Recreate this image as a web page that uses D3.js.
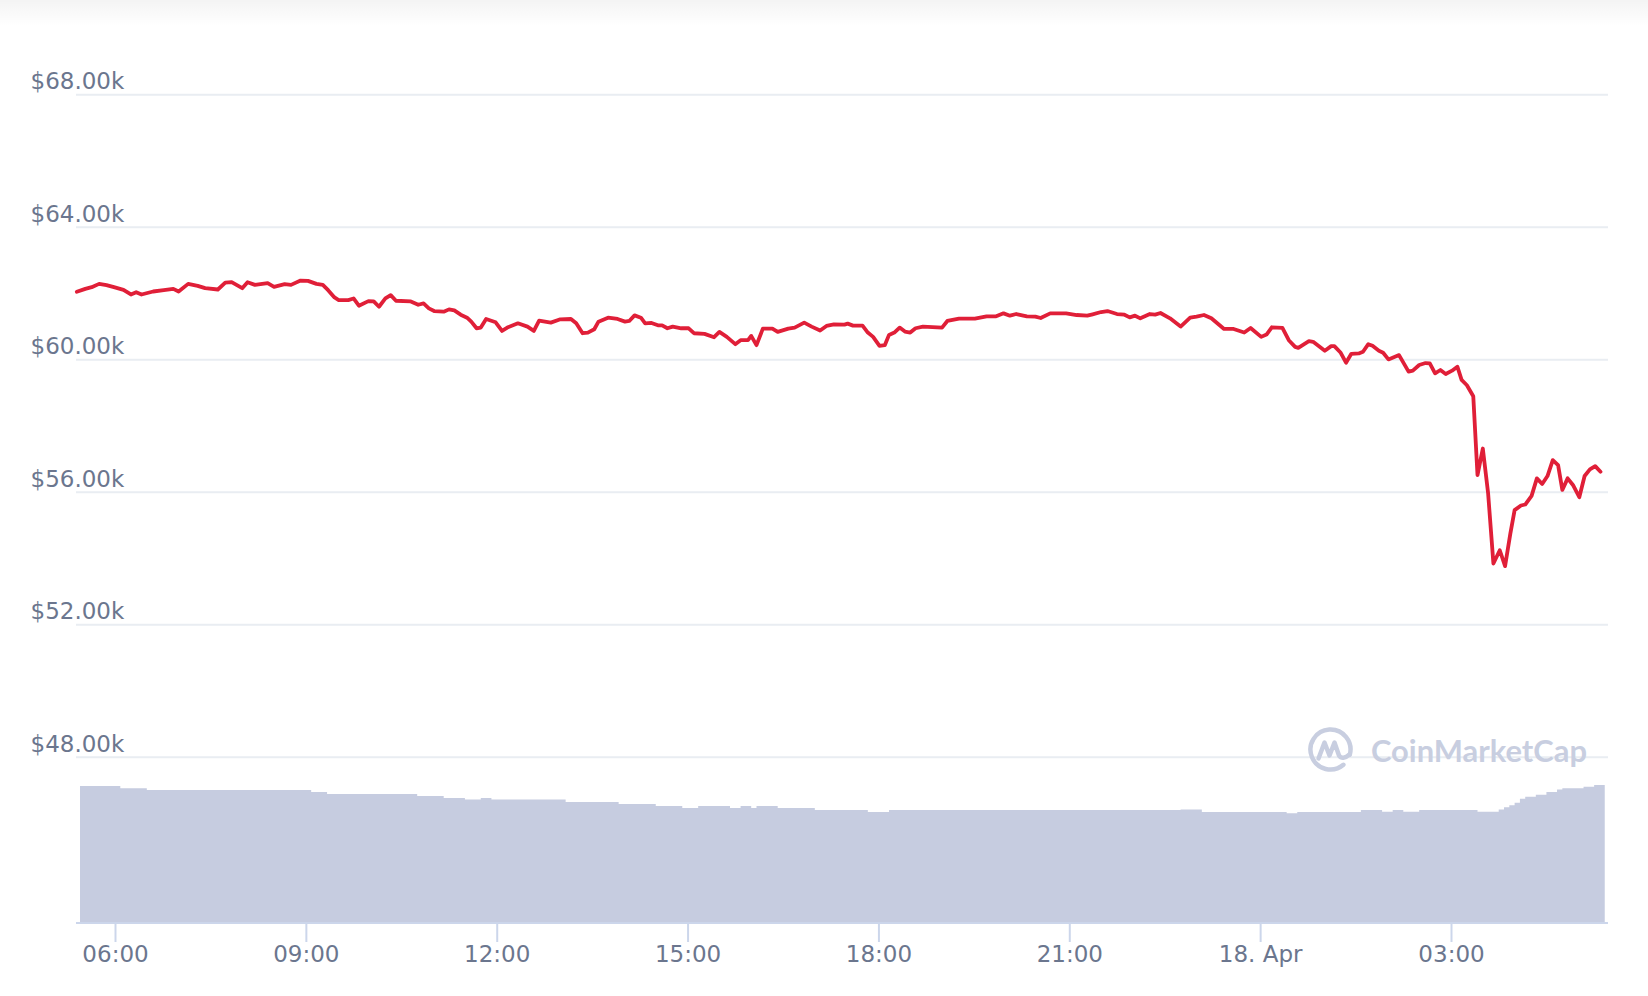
<!DOCTYPE html>
<html><head><meta charset="utf-8">
<script src="https://cdn.jsdelivr.net/npm/d3@7"></script>
<style>
html,body{margin:0;padding:0;background:#fff;}
svg{display:block;}
</style></head><body>
<svg id="c" width="1648" height="996"></svg>
<script>
// ---- data (BTC price, 17–18 Apr 2021) ----
const priceTimes = ["05:24","05:32","05:38","05:45","05:52","05:59","06:08","06:15","06:20","06:25","06:36","06:46","06:55","07:00","07:09","07:18","07:25","07:37","07:44","07:50","08:00","08:05","08:12","08:24","08:30","08:40","08:46","08:55","09:02","09:10","09:16","09:21","09:27","09:31","09:40","09:45","09:50","09:59","10:04","10:09","10:15","10:20","10:25","10:39","10:46","10:51","10:56","11:01","11:10","11:15","11:20","11:26","11:32","11:36","11:41","11:45","11:50","11:59","12:05","12:10","12:20","12:29","12:35","12:40","12:51","13:00","13:10","13:15","13:21","13:26","13:32","13:36","13:45","13:54","14:01","14:05","14:10","14:16","14:20","14:26","14:32","14:36","14:41","14:46","14:54","15:01","15:06","15:16","15:25","15:30","15:37","15:45","15:50","15:57","16:00","16:05","16:11","16:20","16:25","16:35","16:41","16:50","16:57","17:05","17:11","17:18","17:28","17:31","17:36","17:45","17:50","17:55","18:01","18:06","18:10","18:15","18:20","18:25","18:30","18:35","18:42","19:00","19:05","19:16","19:31","19:42","19:51","19:58","20:04","20:10","20:20","20:28","20:33","20:42","20:57","21:07","21:17","21:22","21:30","21:36","21:45","21:52","21:57","22:02","22:07","22:16","22:21","22:26","22:35","22:45","22:54","23:00","23:07","23:14","23:26","23:35","23:45","23:51","00:01","00:06","00:11","00:21","00:27","00:33","00:36","00:46","00:50","01:01","01:07","01:10","01:16","01:21","01:26","01:33","01:37","01:42","01:46","01:52","01:56","02:01","02:11","02:20","02:24","02:30","02:36","02:40","02:45","02:50","02:55","03:01","03:06","03:10","03:15","03:21","03:25","03:30","03:35","03:40","03:46","03:51","03:56","04:00","04:06","04:10","04:16","04:21","04:26","04:31","04:36","04:41","04:45","04:50","04:55","05:01","05:06","05:11","05:16","05:21"];
const priceValues = [62050,62140,62190,62290,62250,62190,62110,61970,62040,61970,62060,62100,62140,62060,62290,62230,62160,62120,62330,62340,62160,62340,62260,62310,62200,62280,62260,62390,62380,62290,62260,62100,61880,61800,61800,61850,61630,61770,61760,61600,61850,61950,61780,61760,61660,61700,61550,61470,61450,61520,61490,61360,61270,61150,60950,60970,61230,61130,60870,60970,61100,61000,60870,61180,61120,61220,61230,61100,60800,60820,60920,61150,61270,61230,61150,61170,61340,61270,61100,61110,61040,61040,60950,61000,60950,60950,60800,60780,60680,60840,60690,60470,60590,60590,60720,60440,60940,60940,60840,60940,60970,61120,61000,60880,61020,61070,61060,61090,61030,61030,60820,60690,60420,60440,60750,60820,60970,60850,60820,60950,61000,60970,61170,61240,61240,61310,61310,61400,61330,61380,61310,61300,61260,61400,61400,61350,61330,61370,61440,61470,61380,61360,61280,61330,61250,61380,61360,61410,61250,61000,61270,61300,61350,61250,60930,60930,60820,60960,60690,60760,60980,60960,60590,60390,60360,60560,60540,60270,60410,60410,60210,59910,60180,60190,60240,60470,60420,60270,60210,60010,60140,59640,59670,59840,59900,59890,59590,59690,59570,59670,59790,59390,59230,58900,56520,57320,55970,53850,54250,53770,54760,55460,55600,55630,55890,56420,56250,56490,56970,56820,56070,56420,56220,55850,56490,56690,56790,56620];

// 24h volume (billions USD), step values
const volumeTimes = ["05:27","06:05","06:30","09:05","09:20","10:45","11:10","11:30","11:45","11:55","13:05","13:55","14:30","14:55","15:10","15:40","15:50","16:00","16:05","16:25","17:00","17:50","18:10","22:45","23:05","00:25","00:35","01:35","01:55","02:05","02:15","02:30","03:25","03:45","03:50","03:55","04:00","04:05","04:10","04:20","04:30","04:40","04:45","05:05","05:15","05:25"];
const volumeValues = [64.0,62.9,62.1,61.2,60.2,59.3,58.4,57.6,58.4,57.6,56.5,55.5,54.6,53.7,54.6,53.7,54.6,53.7,54.6,53.7,52.7,51.8,52.7,53.0,51.8,51.2,51.8,52.7,51.9,52.7,51.9,52.7,51.9,53.0,54.0,54.9,56.1,58.0,59.0,59.9,61.2,62.4,62.9,63.7,64.5,64.5];

const priceTicks = [48000,52000,56000,60000,64000,68000];
const timeTicks = ["06:00","09:00","12:00","15:00","18:00","21:00","00:00","03:00"];
const timeTickLabels = ["06:00","09:00","12:00","15:00","18:00","21:00","18. Apr","03:00"];

// ---- helpers ----
function toDates(list){
  let day = 17, prev = -1;
  return list.map(s=>{
    const [h,m] = s.split(":").map(Number);
    const mins = h*60+m;
    if (prev >= 0 && mins < prev) day++;
    prev = mins;
    return new Date(2021,3,day,h,m);
  });
}
const pDates = toDates(priceTimes);
const vDates = toDates(volumeTimes);
const tDates = toDates(timeTicks);
const priceData = pDates.map((t,i)=>({t, v: priceValues[i]}));
const volData = vDates.map((t,i)=>({t, v: volumeValues[i]}));

const svg = d3.select("#c");
const FONT = "'DejaVu Sans', Verdana, sans-serif";
const TXT = "#6b768e";

const x = d3.scaleTime()
  .domain([new Date(2021,3,17,6,0), new Date(2021,3,18,3,0)])
  .range([115, 1451]);
const y = d3.scaleLinear().domain([48000, 68000]).range([757.3, 94.7]);
const yv = d3.scaleLinear().domain([0, 80]).range([922, 752]);
const plotL = 76, plotR = 1608;

// top shadow
const defs = svg.append("defs");
const g0 = defs.append("linearGradient").attr("id","sh").attr("x1",0).attr("y1",0).attr("x2",0).attr("y2",1);
g0.append("stop").attr("offset","0%").attr("stop-color","#000").attr("stop-opacity",0.045);
g0.append("stop").attr("offset","100%").attr("stop-color","#000").attr("stop-opacity",0);
svg.append("rect").attr("x",0).attr("y",0).attr("width",1648).attr("height",26).attr("fill","url(#sh)");

// gridlines + labels
svg.append("g").selectAll("line").data(priceTicks).join("line")
  .attr("x1", plotL).attr("x2", plotR)
  .attr("y1", d=>y(d)).attr("y2", d=>y(d))
  .attr("stroke", "#e9edf2").attr("stroke-width", 2);
svg.append("g").selectAll("text").data(priceTicks).join("text")
  .attr("x", 30.5).attr("y", d=>y(d)-5.5)
  .attr("font-family", FONT).attr("font-size", 23).attr("fill", TXT)
  .text(d=>"$" + d3.format(".2f")(d/1000) + "k");

// volume (step area)
const area = d3.area().curve(d3.curveStepAfter)
  .x(d=>x(d.t)).y0(yv(0)).y1(d=>yv(d.v));
svg.append("path").datum(volData).attr("d", area).attr("fill", "#c6cce0");

// watermark logo
const logo = svg.append("g").attr("transform","translate(1330.5,749.5)")
  .attr("fill","none").attr("stroke","#c8cee0").attr("stroke-width",4.5)
  .attr("stroke-linecap","round").attr("stroke-linejoin","round");
logo.append("path").attr("d","M 12.9 15.3 A 20 20 0 1 1 19.3 5.2");
logo.append("path").attr("d","M -12 9 L -6 -7 L -1 6 L 4 -7 L 8.5 6 Q 12 11 19 5");
svg.append("text").attr("x",1371).attr("y",762)
  .attr("font-family","Lato, 'Open Sans', sans-serif").attr("font-weight",700)
  .attr("font-size",31).attr("fill","#c8cee0")
  .attr("textLength",216).attr("lengthAdjust","spacingAndGlyphs")
  .text("CoinMarketCap");

// price line
const line = d3.line().x(d=>x(d.t)).y(d=>y(d.v));
svg.append("path").datum(priceData).attr("d", line)
  .attr("fill","none").attr("stroke","#e01f38").attr("stroke-width",3.8)
  .attr("stroke-linejoin","round").attr("stroke-linecap","round");

// x axis
svg.append("line").attr("x1", plotL).attr("x2", plotR).attr("y1", 923).attr("y2", 923)
  .attr("stroke","#ccd6eb").attr("stroke-width",2);
const ax = d3.axisBottom(x).tickValues(tDates).tickSize(19).tickPadding(4)
  .tickFormat((d,i)=>timeTickLabels[i]);
const axg = svg.append("g").attr("transform","translate(0,923)").call(ax);
axg.select(".domain").remove();
axg.selectAll(".tick line").attr("stroke","#ccd6eb").attr("stroke-width",2);
axg.selectAll(".tick text").attr("font-family", FONT).attr("font-size",23).attr("fill",TXT);
</script>
</body></html>
